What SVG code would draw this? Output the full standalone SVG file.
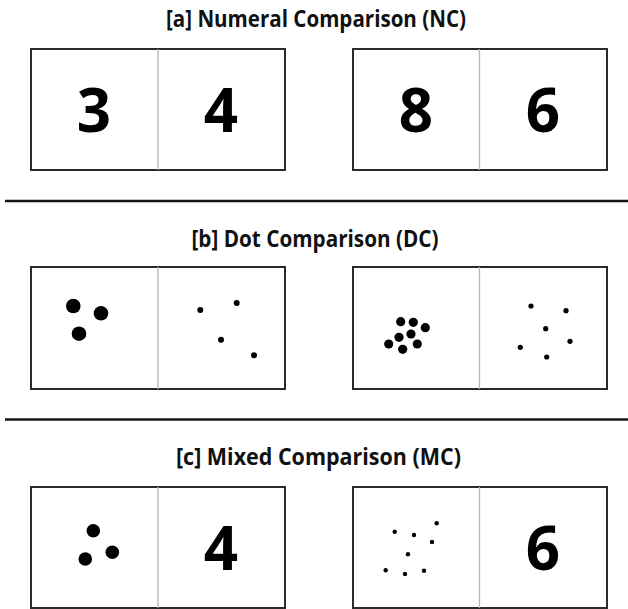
<svg xmlns="http://www.w3.org/2000/svg" width="628" height="609" viewBox="0 0 628 609">
<style>
.title{font-family:"Open Sans","Liberation Sans",sans-serif;font-weight:bold;font-size:24px;fill:#111;text-anchor:middle}
.digit{font-family:"Open Sans","Liberation Sans",sans-serif;font-weight:bold;font-size:60px;fill:#000;text-anchor:middle}
.box{fill:#fff;stroke:#2a2a2a;stroke-width:2}
.div{stroke:#b4b4b4;stroke-width:1.3}
.sep{stroke:#151515;stroke-width:2.5}
.dot{fill:#000}
</style>
<rect width="628" height="609" fill="#fff"/>
<g id="title-a"><text class="title" x="316" y="27" textLength="300" lengthAdjust="spacingAndGlyphs">[a] Numeral Comparison (NC)</text></g>
<g id="nc-left">
<rect class="box" x="31" y="49" width="254" height="121"/>
<line class="div" x1="158" y1="49" x2="158" y2="170"/>
<text class="digit" x="94" y="132">3</text>
<text class="digit" x="221" y="132">4</text>
</g>
<g id="nc-right">
<rect class="box" x="353" y="49" width="254" height="121"/>
<line class="div" x1="479.5" y1="49" x2="479.5" y2="170"/>
<text class="digit" x="416" y="132">8</text>
<text class="digit" x="543" y="132">6</text>
</g>
<g id="separators">
<line class="sep" x1="5" y1="201" x2="628" y2="201"/>
<line class="sep" x1="5" y1="419.5" x2="628" y2="419.5"/>
</g>
<g id="title-b"><text class="title" x="315" y="247" textLength="247" lengthAdjust="spacingAndGlyphs">[b] Dot Comparison (DC)</text></g>
<g id="dc-left">
<rect class="box" x="31" y="267" width="254" height="122"/>
<line class="div" x1="158" y1="267" x2="158" y2="389"/>
<circle class="dot" cx="73.3" cy="306" r="7.3"/>
<circle class="dot" cx="101" cy="313.3" r="7.3"/>
<circle class="dot" cx="79" cy="333.7" r="7.3"/>
<circle class="dot" cx="200.3" cy="310" r="3"/>
<circle class="dot" cx="236.7" cy="303" r="3"/>
<circle class="dot" cx="221" cy="339.7" r="3"/>
<circle class="dot" cx="254" cy="355.3" r="3"/>
</g>
<g id="dc-right">
<rect class="box" x="353" y="267" width="254" height="122"/>
<line class="div" x1="479.5" y1="267" x2="479.5" y2="389"/>
<circle class="dot" cx="400.7" cy="321.7" r="4.6"/>
<circle class="dot" cx="413.3" cy="322.3" r="4.6"/>
<circle class="dot" cx="425.3" cy="327.7" r="4.6"/>
<circle class="dot" cx="399" cy="337.3" r="4.6"/>
<circle class="dot" cx="411" cy="334" r="4.6"/>
<circle class="dot" cx="388.7" cy="344" r="4.6"/>
<circle class="dot" cx="402.7" cy="349.3" r="4.6"/>
<circle class="dot" cx="417.3" cy="344" r="4.6"/>
<circle class="dot" cx="531" cy="306" r="2.6"/>
<circle class="dot" cx="566" cy="310.7" r="2.6"/>
<circle class="dot" cx="545.7" cy="328.7" r="2.6"/>
<circle class="dot" cx="570" cy="341.3" r="2.6"/>
<circle class="dot" cx="520.3" cy="347.3" r="2.6"/>
<circle class="dot" cx="546.7" cy="357" r="2.6"/>
</g>
<g id="title-c"><text class="title" x="318.5" y="465" textLength="285" lengthAdjust="spacingAndGlyphs">[c] Mixed Comparison (MC)</text></g>
<g id="mc-left">
<rect class="box" x="31" y="487" width="254" height="121"/>
<line class="div" x1="158" y1="487" x2="158" y2="608"/>
<circle class="dot" cx="93.3" cy="530.7" r="6.8"/>
<circle class="dot" cx="85.3" cy="559" r="6.8"/>
<circle class="dot" cx="112.3" cy="552.3" r="6.8"/>
<text class="digit" x="221" y="570">4</text>
</g>
<g id="mc-right">
<rect class="box" x="353" y="487" width="254" height="121"/>
<line class="div" x1="479.5" y1="487" x2="479.5" y2="608"/>
<circle class="dot" cx="394.7" cy="531.7" r="2.2"/>
<circle class="dot" cx="414" cy="535" r="2.2"/>
<circle class="dot" cx="436.7" cy="523.3" r="2.2"/>
<circle class="dot" cx="432" cy="542" r="2.2"/>
<circle class="dot" cx="408" cy="554.3" r="2.2"/>
<circle class="dot" cx="385.7" cy="570.3" r="2.2"/>
<circle class="dot" cx="405" cy="574" r="2.2"/>
<circle class="dot" cx="424" cy="570.7" r="2.2"/>
<text class="digit" x="543" y="570">6</text>
</g>
</svg>
